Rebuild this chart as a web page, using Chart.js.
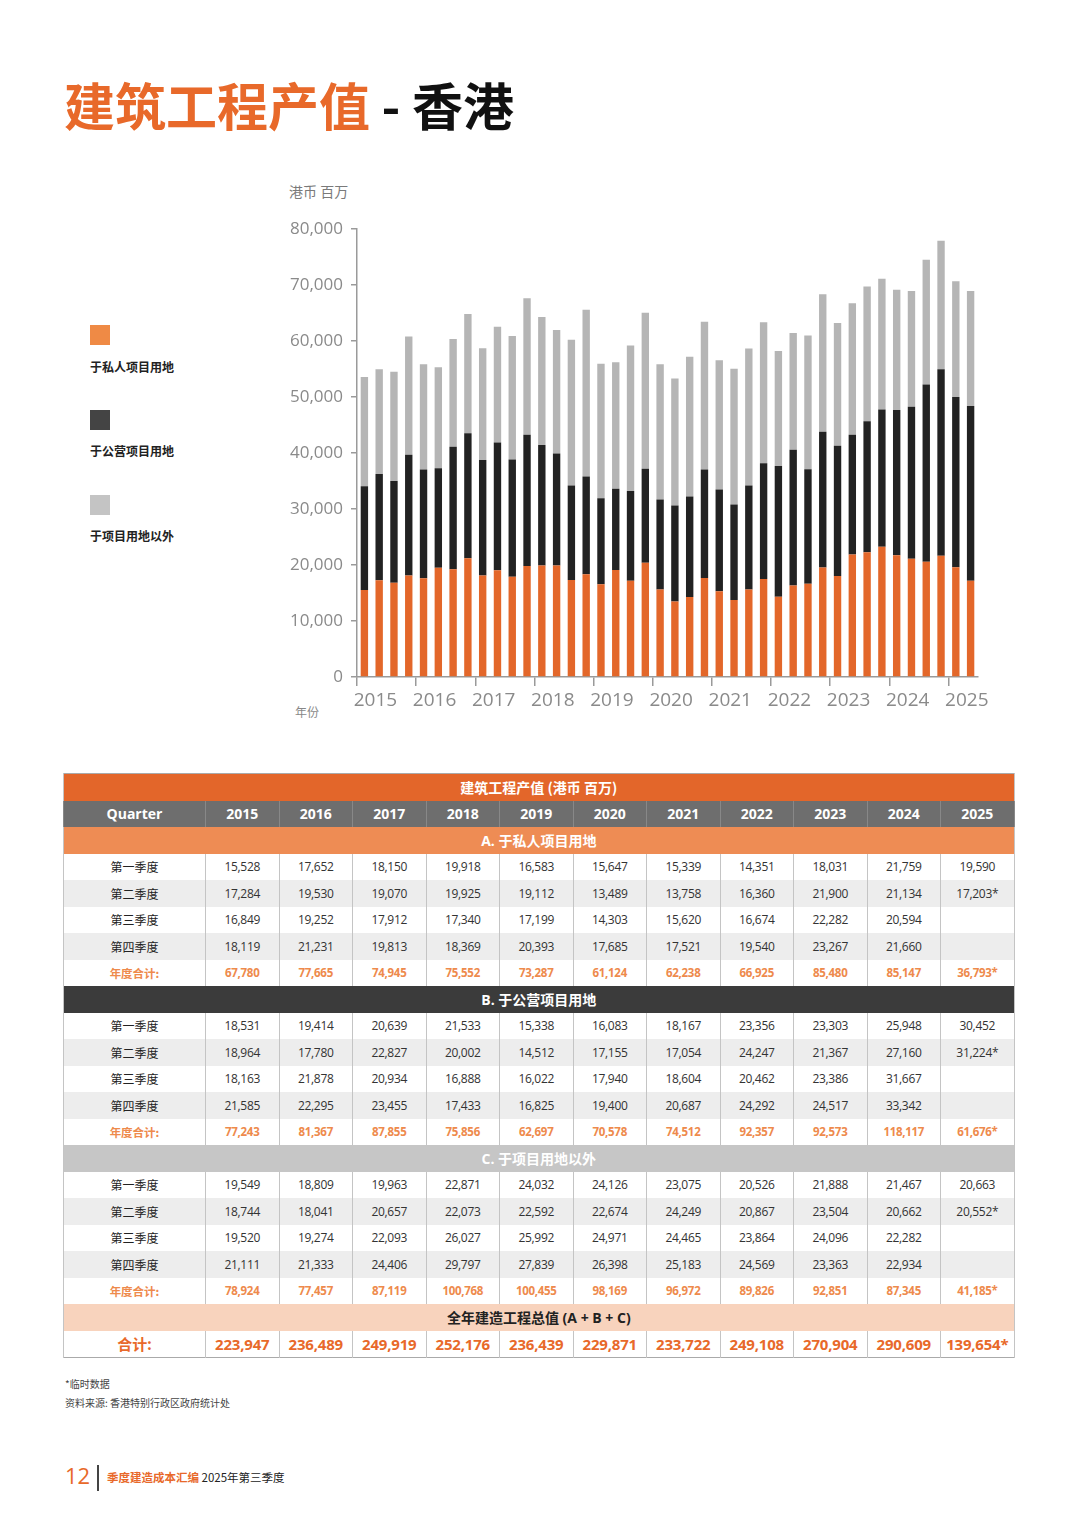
<!DOCTYPE html>
<html lang="zh">
<head>
<meta charset="utf-8">
<title>建筑工程产值 - 香港</title>
<script src="https://cdn.jsdelivr.net/npm/chart.js@4.4.1/dist/chart.umd.min.js"></script>
<style>
    html, body { margin: 0; padding: 0; background: #fff; }
    body { width: 1080px; height: 1526px; position: relative; overflow: hidden;
        font-family: "Open Sans", "Noto Sans CJK SC", sans-serif; }
    .abs { position: absolute; white-space: nowrap; }
    #title { left: 64px; top: 74px; font-size: 51px; font-weight: bold; line-height: 1.2;
        font-family: "Noto Sans CJK SC", sans-serif; }
    #title .orange { color: #e8692a; }
    #title .black { color: #111; }
    #unit { left: 289px; top: 181px; font-size: 14px; color: #7a7a7a; font-family: "Noto Sans CJK SC", sans-serif; }
    #yearLabel { left: 295px; top: 703px; font-size: 12px; color: #888; font-family: "Noto Sans CJK SC", sans-serif; }
    .legBox { position: absolute; left: 90px; width: 20px; height: 20px; }
    .legText { position: absolute; left: 90px; font-size: 12px; font-weight: bold; color: #222;
        font-family: "Noto Sans CJK SC", sans-serif; white-space: nowrap; }
    #chartWrap { position: absolute; left: 270px; top: 211px; width: 730px; height: 520px; }

    #tbl { position: absolute; left: 63px; top: 773px; width: 951px; border-collapse: collapse;
        table-layout: fixed; border: 1px solid #aaa; }
    #tbl td { height: 26.5px; padding: 0; text-align: center; font-size: 12px; color: #333;
        border-left: 1px solid #c4c4c4; border-right: 1px solid #c4c4c4; letter-spacing: -0.3px; }
    #tbl tr.alt td { background: #ededed; }
    #tbl td.lab { font-family: "Noto Sans CJK SC", sans-serif; color: #222; letter-spacing: 0; }
    #tbl tr.title td { background: #e3662a; color: #fff; font-weight: bold; font-size: 14px;
        font-family: "Noto Sans CJK SC", sans-serif; letter-spacing: 0; }
    #tbl tr.head td { background: #6e6e6e; color: #fff; font-weight: bold; font-size: 14px;
        border-color: #888; letter-spacing: 0; }
    #tbl tr.sec td { color: #fff; font-weight: bold; font-size: 14px; letter-spacing: 0;
        font-family: "Open Sans", "Noto Sans CJK SC", sans-serif; }
    #tbl tr.secA td { background: #ee8c54; }
    #tbl tr.secB td { background: #3b3b3b; }
    #tbl tr.secC td { background: #c6c6c6; }
    #tbl tr.secT td { background: #f8d3bd; color: #222; }
    #tbl tr.sum td { color: #ee8a4c; font-weight: bold; font-size: 11.5px; }
    #tbl tr.grand td { color: #e8692a; font-weight: bold; font-size: 15px; letter-spacing: -0.2px; }

    #note1 { left: 65px; top: 1376px; font-size: 10px; color: #444; font-family: "Noto Sans CJK SC", sans-serif; }
    #note2 { left: 65px; top: 1395px; font-size: 10px; color: #444; font-family: "Noto Sans CJK SC", sans-serif; }
    #pageNo { left: 65px; top: 1460px; font-size: 22px; color: #e8692a; }
    #pageBar { position: absolute; left: 97px; top: 1465px; width: 1.5px; height: 26px; background: #444; }
    #pubName { left: 107px; top: 1469px; font-size: 11.5px; font-family: "Noto Sans CJK SC", sans-serif; color: #222; }
    #pubName b { color: #e8692a; }
</style>
</head>
<body>
<div id="title" class="abs"><span class="orange">建筑工程产值</span><span class="black"> - 香港</span></div>
<div id="unit" class="abs">港币 百万</div>
<div id="yearLabel" class="abs">年份</div>

<div class="legBox" style="top:325px; background:#ef8a45;"></div>
<div class="legText" style="top:358px;">于私人项目用地</div>
<div class="legBox" style="top:410px; background:#444;"></div>
<div class="legText" style="top:442px;">于公营项目用地</div>
<div class="legBox" style="top:495px; background:#c4c4c4;"></div>
<div class="legText" style="top:527px;">于项目用地以外</div>

<div id="chartWrap"><canvas id="myChart" width="730" height="520"></canvas></div>

<table id="tbl"></table>

<div id="note1" class="abs">*临时数据</div>
<div id="note2" class="abs">资料来源: 香港特别行政区政府统计处</div>
<div id="pageNo" class="abs">12</div>
<div id="pageBar"></div>
<div id="pubName" class="abs"><b>季度建造成本汇编</b> 2025年第三季度</div>

<script>
'use strict'

// 年份・四半期
var years = ['2015', '2016', '2017', '2018', '2019', '2020', '2021', '2022', '2023', '2024', '2025'];
var quarterNames = ['第一季度', '第二季度', '第三季度', '第四季度'];
var quarters = [];
for (var y = 0; y < years.length; y++) {
    for (var q = 1; q <= 4; q++) {
        if (years[y] === '2025' && q > 2) break;
        quarters.push(years[y] + ' Q' + q);
    }
}

// A. 于私人项目用地 (季度)
var privateQ = [
    15528, 17284, 16849, 18119,
    17652, 19530, 19252, 21231,
    18150, 19070, 17912, 19813,
    19918, 19925, 17340, 18369,
    16583, 19112, 17199, 20393,
    15647, 13489, 14303, 17685,
    15339, 13758, 15620, 17521,
    14351, 16360, 16674, 19540,
    18031, 21900, 22282, 23267,
    21759, 21134, 20594, 21660,
    19590, 17203
];
// B. 于公营项目用地 (季度)
var publicQ = [
    18531, 18964, 18163, 21585,
    19414, 17780, 21878, 22295,
    20639, 22827, 20934, 23455,
    21533, 20002, 16888, 17433,
    15338, 14512, 16022, 16825,
    16083, 17155, 17940, 19400,
    18167, 17054, 18604, 20687,
    23356, 24247, 20462, 24292,
    23303, 21367, 23386, 24517,
    25948, 27160, 31667, 33342,
    30452, 31224
];
// C. 于项目用地以外 (季度)
var otherQ = [
    19549, 18744, 19520, 21111,
    18809, 18041, 19274, 21333,
    19963, 20657, 22093, 24406,
    22871, 22073, 26027, 29797,
    24032, 22592, 25992, 27839,
    24126, 22674, 24971, 26398,
    23075, 24249, 24465, 25183,
    20526, 20867, 23864, 24569,
    21888, 23504, 24096, 23363,
    21467, 20662, 22282, 22934,
    20663, 20552
];

// 年度合计 (表に記載の値)
var privateTotal = [67780, 77665, 74945, 75552, 73287, 61124, 62238, 66925, 85480, 85147, 36793];
var publicTotal = [77243, 81367, 87855, 75856, 62697, 70578, 74512, 92357, 92573, 118117, 61676];
var otherTotal = [78924, 77457, 87119, 100768, 100455, 98169, 96972, 89826, 92851, 87345, 41185];
var grandTotal = [223947, 236489, 249919, 252176, 236439, 229871, 233722, 249108, 270904, 290609, 139654];

// 临时数据
var provisionalQuarters = ['2025 Q2'];
var provisionalYears = ['2025'];

// 基本色
var barColors = ['#e3672a', '#222222', '#b5b5b5'];
var axisColor = '#9a9a9a';
var tickTextColor = '#8a8a8a';

window.onload = function () {
    createChart();
    createTable();
}

function fmt(v) {
    return v.toLocaleString('en-US');
}

function createChart() {
    Chart.defaults.font.family = "'Open Sans', 'Noto Sans CJK SC', sans-serif";
    var ctx = document.getElementById('myChart');
    return new Chart(ctx, {
        type: 'bar',
        data: {
            labels: quarters,
            datasets: [
                { label: '于私人项目用地', data: privateQ, backgroundColor: barColors[0] },
                { label: '于公营项目用地', data: publicQ, backgroundColor: barColors[1] },
                { label: '于项目用地以外', data: otherQ, backgroundColor: barColors[2] }
            ]
        },
        options: {
            responsive: false,
            animation: false,
            layout: { padding: { top: 18, right: 22, left: 0, bottom: 0 } },
            datasets: { bar: { categoryPercentage: 1, barPercentage: 0.5 } },
            plugins: { legend: { display: false }, tooltip: { enabled: false } },
            scales: {
                x: {
                    stacked: true,
                    grid: {
                        offset: true,
                        drawOnChartArea: false,
                        tickLength: 9,
                        lineWidth: 1.5,
                        color: function (c) { return c.index % 4 === 0 ? axisColor : 'rgba(0,0,0,0)'; }
                    },
                    border: { color: axisColor, width: 1.5 },
                    ticks: {
                        autoSkip: false,
                        maxRotation: 0,
                        labelOffset: 11,
                        padding: 3,
                        color: tickTextColor,
                        font: { size: 19 },
                        callback: function (v, i) { return i % 4 === 0 ? quarters[i].slice(0, 4) : ''; }
                    },
                    afterFit: function (s) { s.height = 54; }
                },
                y: {
                    stacked: true,
                    min: 0,
                    max: 80000,
                    grid: { drawOnChartArea: false, tickLength: 6, lineWidth: 1.5, color: axisColor },
                    border: { color: axisColor, width: 1.5 },
                    ticks: {
                        stepSize: 10000,
                        padding: 8,
                        color: tickTextColor,
                        font: { size: 17 },
                        callback: function (v) { return fmt(v); }
                    },
                    afterFit: function (s) { s.width = 87; }
                }
            }
        }
    });
}

function addRow(tbl, cls, cells) {
    var tr = document.createElement('tr');
    if (cls) tr.className = cls;
    for (var i = 0; i < cells.length; i++) {
        var td = document.createElement('td');
        td.textContent = cells[i].text;
        if (cells[i].span) td.colSpan = cells[i].span;
        if (cells[i].cls) td.className = cells[i].cls;
        tr.appendChild(td);
    }
    tbl.appendChild(tr);
}

function createTable() {
    var tbl = document.getElementById('tbl');
    var colgroup = document.createElement('colgroup');
    var col = document.createElement('col');
    col.style.width = '142px';
    colgroup.appendChild(col);
    for (var i = 0; i < years.length; i++) {
        col = document.createElement('col');
        col.style.width = '73.5px';
        colgroup.appendChild(col);
    }
    tbl.appendChild(colgroup);

    var span = years.length + 1;
    addRow(tbl, 'title', [{ text: '建筑工程产值 (港币 百万)', span: span }]);
    addRow(tbl, 'head', [{ text: 'Quarter' }].concat(years.map(function (y) { return { text: y }; })));

    var sections = [
        { cls: 'sec secA', name: 'A. 于私人项目用地', q: privateQ, t: privateTotal },
        { cls: 'sec secB', name: 'B. 于公营项目用地', q: publicQ, t: publicTotal },
        { cls: 'sec secC', name: 'C. 于项目用地以外', q: otherQ, t: otherTotal }
    ];
    sections.forEach(function (s) {
        addRow(tbl, s.cls, [{ text: s.name, span: span }]);
        for (var q = 0; q < 4; q++) {
            var cells = [{ text: quarterNames[q], cls: 'lab' }];
            for (var y = 0; y < years.length; y++) {
                var idx = y * 4 + q;
                var txt = '';
                if (idx < s.q.length) {
                    txt = fmt(s.q[idx]);
                    if (provisionalQuarters.indexOf(quarters[idx]) >= 0) txt += '*';
                }
                cells.push({ text: txt });
            }
            addRow(tbl, q % 2 === 1 ? 'alt' : '', cells);
        }
        var sum = [{ text: '年度合计:', cls: 'lab' }];
        for (var y = 0; y < years.length; y++) {
            sum.push({ text: fmt(s.t[y]) + (provisionalYears.indexOf(years[y]) >= 0 ? '*' : '') });
        }
        addRow(tbl, 'sum', sum);
    });

    addRow(tbl, 'sec secT', [{ text: '全年建造工程总值 (A + B + C)', span: span }]);
    var grand = [{ text: '合计:', cls: 'lab' }];
    for (var y = 0; y < years.length; y++) {
        grand.push({ text: fmt(grandTotal[y]) + (provisionalYears.indexOf(years[y]) >= 0 ? '*' : '') });
    }
    addRow(tbl, 'grand', grand);
}
</script>
</body>
</html>
